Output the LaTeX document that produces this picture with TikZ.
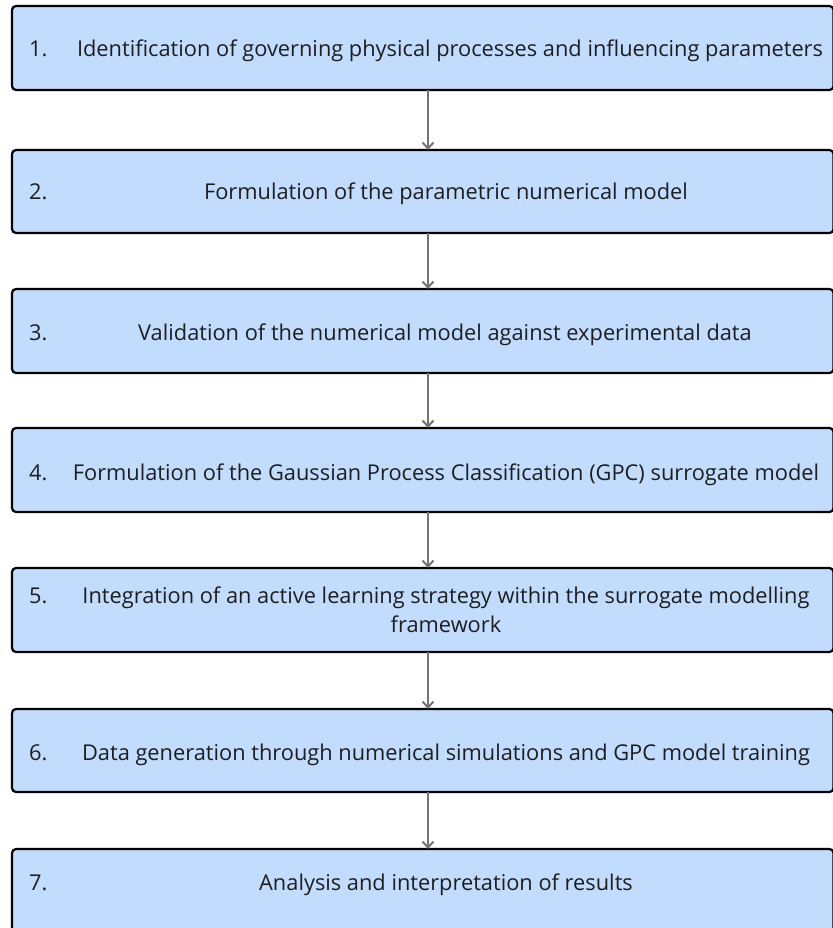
\documentclass[tikz,border=0pt]{standalone}
\usepackage{fontspec}
\setmainfont{Open Sans}
\usetikzlibrary{arrows.meta}
\definecolor{boxfill}{HTML}{C2DCFE}
\definecolor{textdark}{HTML}{1E1E1E}
\definecolor{arrowgray}{HTML}{737373}
\tikzset{
  stagebox/.style={draw=black, line width=2.2pt, fill=boxfill, rounded corners=4pt},
  stagenum/.style={anchor=base west, inner sep=0pt, text=textdark, font=\fontsize{21.8}{29}\selectfont},
  stagetext/.style={anchor=base, inner sep=0pt, text=textdark, align=center, font=\fontsize{21.8}{29}\selectfont},
  flow/.style={draw=arrowgray, line width=2pt, -{Straight Barb[length=6pt,width=11pt,line width=2pt]}}
}
\begin{document}
\begin{tikzpicture}[x=1pt,y=-1pt]
\useasboundingbox (0,0) rectangle (832,928);

% stage boxes
\path[stagebox] (12,6) rectangle (833.5,90) node[pos=0.5, inner sep=0pt] (b1) {};
\path[stagebox] (12,150) rectangle (833.5,233) node[pos=0.5, inner sep=0pt] (b2) {};
\path[stagebox] (12,289) rectangle (833.5,373) node[pos=0.5, inner sep=0pt] (b3) {};
\path[stagebox] (12,428) rectangle (833.5,512) node[pos=0.5, inner sep=0pt] (b4) {};
\path[stagebox] (12,568) rectangle (833.5,652) node[pos=0.5, inner sep=0pt] (b5) {};
\path[stagebox] (12,709) rectangle (833.5,792) node[pos=0.5, inner sep=0pt] (b6) {};
\path[stagebox] (12,849) rectangle (833.5,935) node[pos=0.5, inner sep=0pt] (b7) {};

% anchor points on the box edges for the connectors
\coordinate (o1) at (428,90);   \coordinate (i2) at (428,150);
\coordinate (o2) at (428,233);  \coordinate (i3) at (428,289);
\coordinate (o3) at (428,373);  \coordinate (i4) at (428,428);
\coordinate (o4) at (428,512);  \coordinate (i5) at (428,568);
\coordinate (o5) at (428,652);  \coordinate (i6) at (428,709);
\coordinate (o6) at (428,792);  \coordinate (i7) at (428,849);

% numbers (baselines)
\node[stagenum] (n1) at (29,57) {1.};
\node[stagenum] (n2) at (29,200) {2.};
\node[stagenum] (n3) at (29,340) {3.};
\node[stagenum] (n4) at (29,480) {4.};
\node[stagenum] (n5) at (29,603) {5.};
\node[stagenum] (n6) at (29,760) {6.};
\node[stagenum] (n7) at (29,890) {7.};

% stage descriptions (baselines; the two-line one is placed by its last line)
\node[stagetext] (t1) at (450,57) {Identification of governing physical processes and influencing parameters};
\node[stagetext] (t2) at (446,200) {Formulation of the parametric numerical model};
\node[stagetext] (t3) at (445,340) {Validation of the numerical model against experimental data};
\node[stagetext] (t4) at (446,480) {Formulation of the Gaussian Process Classification (GPC) surrogate model};
\node[stagetext] (t5) at (446,632) {Integration of an active learning strategy within the surrogate modelling\\framework};
\node[stagetext] (t6) at (446,760) {Data generation through numerical simulations and GPC model training};
\node[stagetext] (t7) at (446,890) {Analysis and interpretation of results};

% connectors
\draw[flow] (o1) -- (i2);
\draw[flow] (o2) -- (i3);
\draw[flow] (o3) -- (i4);
\draw[flow] (o4) -- (i5);
\draw[flow] (o5) -- (i6);
\draw[flow] (o6) -- (i7);
\end{tikzpicture}
\end{document}
